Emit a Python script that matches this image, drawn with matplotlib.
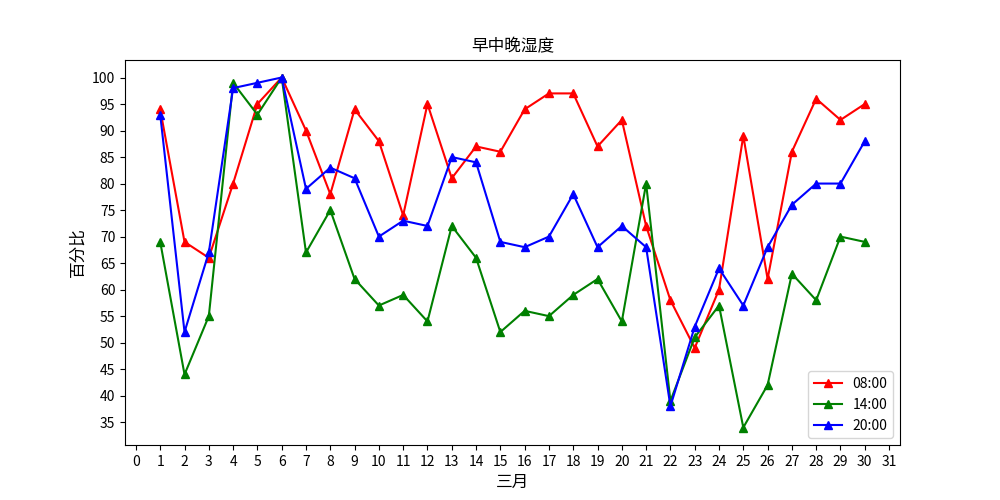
import matplotlib
matplotlib.use("Agg")
import matplotlib.pyplot as plt

plt.rcParams['font.family'] = ['Noto Sans CJK SC', 'DejaVu Sans']

days = list(range(1, 31))
morning = [94,69,66,80,95,100,90,78,94,88,74,95,81,87,86,94,97,97,87,92,72,58,49,60,89,62,86,96,92,95]
noon = [69,44,55,99,93,100,67,75,62,57,59,54,72,66,52,56,55,59,62,54,80,39,51,57,34,42,63,58,70,69]
evening = [93,52,67,98,99,100,79,83,81,70,73,72,85,84,69,68,70,78,68,72,68,38,53,64,57,68,76,80,80,88]

fig, ax = plt.subplots(figsize=(10, 5), dpi=100)
ax.plot(days, morning, 'r-^', label='08:00')
ax.plot(days, noon, 'g-^', label='14:00')
ax.plot(days, evening, 'b-^', label='20:00')
ax.set_xticks(range(0, 32))
ax.set_yticks(range(35, 101, 5))
ax.set_xlabel('三月', fontsize=12)
ax.set_ylabel('百分比', fontsize=12)
ax.set_title('早中晚湿度')
ax.legend(loc='lower right')
fig.savefig('out.png')
